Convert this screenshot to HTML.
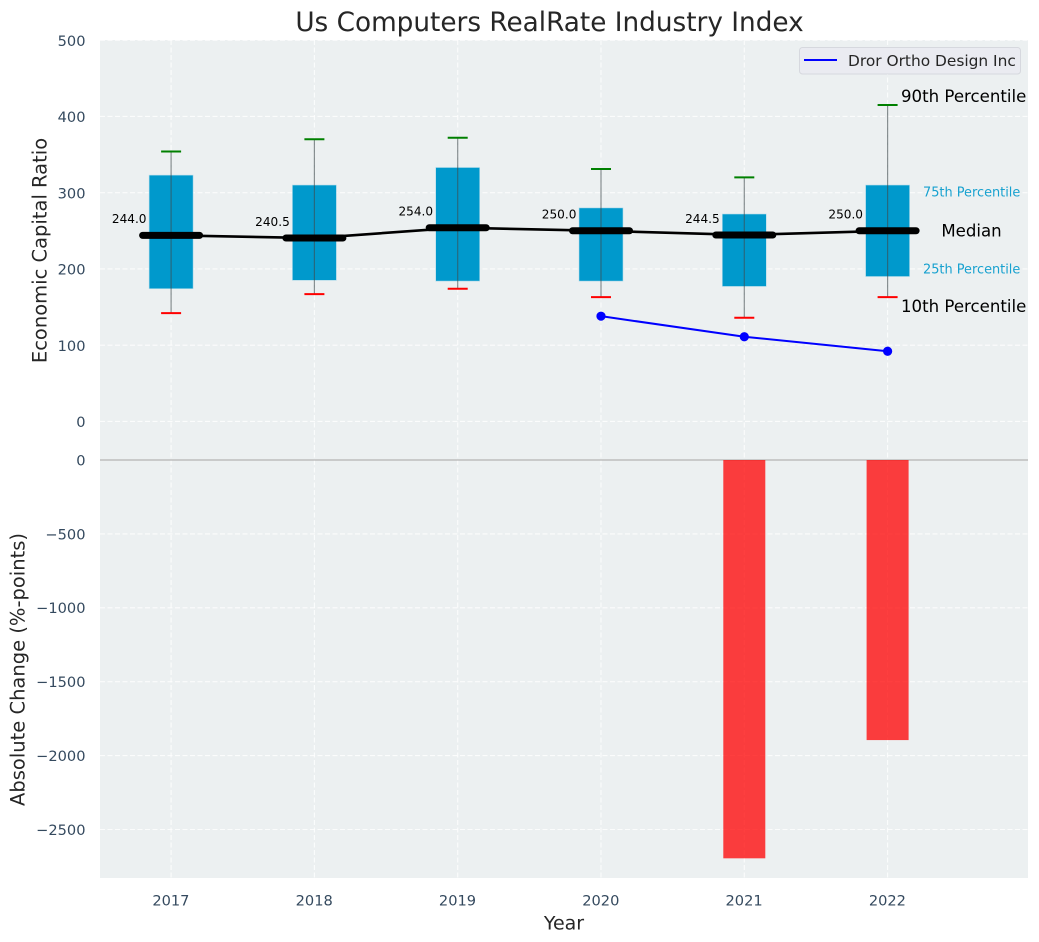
<!DOCTYPE html>
<html>
<head>
<meta charset="utf-8">
<title>Us Computers RealRate Industry Index</title>
<style>
html,body{margin:0;padding:0;background:#fff;width:1039px;height:942px;overflow:hidden}
svg{display:block;font-family:"DejaVu Sans","Liberation Sans",sans-serif}
</style>
</head>
<body>
<svg id="chart" width="1039" height="942" viewBox="0 0 1039 942" xmlns="http://www.w3.org/2000/svg"></svg>
<script>
const years = [2017, 2018, 2019, 2020, 2021, 2022];
const p10 = [142, 167, 174, 163, 136, 163];
const p25 = [174, 185, 184, 184, 177, 190];
const medians = [244.0, 240.5, 254.0, 250.0, 244.5, 250.0];
const p75 = [323, 310, 333, 280, 272, 310];
const p90 = [354, 370, 372, 331, 320, 415];
const companyYears = [2020, 2021, 2022];
const companyValues = [138, 111, 92];
const changeYears = [2021, 2022];
const changeValues = [-2695, -1895];
const topTicks = [0, 100, 200, 300, 400, 500];
const bottomTicks = [0, -500, -1000, -1500, -2000, -2500];

const NS = 'http://www.w3.org/2000/svg';
const svg = document.getElementById('chart');
const xScale = function (yr) { return 171.1 + (yr - 2017) * 143.3; };
const yTop = function (v) { return 421.4 - v * 0.7625; };
const yBottom = function (v) { return 460 - v * 0.1478; };

function make(tag, attrs, name, text) {
  const el = document.createElementNS(NS, tag);
  for (const k in attrs) el.setAttribute(k, attrs[k]);
  
  
  if (text !== undefined) el.textContent = text;
  svg.appendChild(el);
  return el;
}
function fmtTick(v) { return v < 0 ? '\u2212' + Math.abs(v) : String(v); }

const gridStyle = {stroke: '#fff', 'stroke-width': 1.1, 'stroke-dasharray': '5 2.5', opacity: 0.8};

make('rect', {x: 100, y: 40, width: 928, height: 838, fill: '#ecf0f1'}, 'plot-background');

years.forEach(function (yr) {
  make('line', Object.assign({x1: xScale(yr), x2: xScale(yr), y1: 40, y2: 878}, gridStyle), 'x-gridline-' + yr);
});
topTicks.forEach(function (t) {
  make('line', Object.assign({x1: 100, x2: 1028, y1: yTop(t), y2: yTop(t)}, gridStyle), 'top-y-gridline-' + t);
  make('text', {x: 85.5, y: yTop(t) + 5.6, 'text-anchor': 'end', 'font-size': 14.6, fill: '#34495e'}, 'top-y-tick-label-' + t, fmtTick(t));
});
bottomTicks.forEach(function (t) {
  if (t !== 0) make('line', Object.assign({x1: 100, x2: 1028, y1: yBottom(t), y2: yBottom(t)}, gridStyle), 'bottom-y-gridline-' + t);
  make('text', {x: 85.5, y: yBottom(t) + 5.4, 'text-anchor': 'end', 'font-size': 14.6, fill: '#34495e'}, 'bottom-y-tick-label-' + t, fmtTick(t));
});
make('line', {x1: 100, x2: 1028, y1: yBottom(0), y2: yBottom(0), stroke: '#b4b4b4', 'stroke-width': 1.2}, 'zero-line');

changeYears.forEach(function (yr, i) {
  const yA = yBottom(0), yB = yBottom(changeValues[i]);
  make('rect', {x: xScale(yr) - 21, y: Math.min(yA, yB), width: 42, height: Math.abs(yB - yA), fill: '#ff0000', opacity: 0.75}, 'change-bar-' + yr);
});

years.forEach(function (yr, i) {
  const x = xScale(yr);
  make('rect', {x: x - 22, y: yTop(p75[i]), width: 44, height: yTop(p25[i]) - yTop(p75[i]), fill: '#0099cc', stroke: '#b5dcea', 'stroke-width': 0.6}, 'iqr-box-' + yr);
  make('line', {x1: x, x2: x, y1: yTop(p90[i]), y2: yTop(p10[i]), stroke: '#3f4a4d', 'stroke-width': 1.2, opacity: 0.6}, 'whisker-' + yr);
  make('line', {x1: x - 10, x2: x + 10, y1: yTop(p90[i]), y2: yTop(p90[i]), stroke: '#008000', 'stroke-width': 2}, 'p90-cap-' + yr);
  make('line', {x1: x - 10, x2: x + 10, y1: yTop(p10[i]), y2: yTop(p10[i]), stroke: '#ff0000', 'stroke-width': 2}, 'p10-cap-' + yr);
});

make('polyline', {points: years.map(function (yr, i) { return xScale(yr) + ',' + yTop(medians[i]); }).join(' '), fill: 'none', stroke: '#000', 'stroke-width': 2.6}, 'median-line');
years.forEach(function (yr, i) {
  const x = xScale(yr), y = yTop(medians[i]);
  make('line', {x1: x - 28.5, x2: x + 28.5, y1: y, y2: y, stroke: '#000', 'stroke-width': 7, 'stroke-linecap': 'round'}, 'median-marker-' + yr);
  make('text', {x: x - 24.6, y: y - 12.2, 'text-anchor': 'end', 'font-size': 12.1, fill: '#000'}, 'median-value-' + yr, medians[i].toFixed(1));
});

make('polyline', {points: companyYears.map(function (yr, i) { return xScale(yr) + ',' + yTop(companyValues[i]); }).join(' '), fill: 'none', stroke: '#0000ff', 'stroke-width': 2}, 'company-line');
companyYears.forEach(function (yr, i) {
  make('circle', {cx: xScale(yr), cy: yTop(companyValues[i]), r: 4.6, fill: '#0000ff'}, 'company-point-' + yr);
});

const last = years.length - 1;
make('text', {x: 901, y: yTop(p90[last]) - 3.1, 'font-size': 16.6, fill: '#000'}, 'annotation-90th-percentile', '90th Percentile');
make('text', {x: 901, y: yTop(p10[last]) + 15, 'font-size': 16.6, fill: '#000'}, 'annotation-10th-percentile', '10th Percentile');
make('text', {x: 971.5, y: yTop(medians[last]) + 5.5, 'text-anchor': 'middle', 'font-size': 16.6, fill: '#000'}, 'annotation-median', 'Median');
make('text', {x: 923, y: yTop(p75[last]) + 11.3, 'font-size': 12.9, fill: '#0099cc', opacity: 0.9}, 'annotation-75th-percentile', '75th Percentile');
make('text', {x: 923, y: yTop(p25[last]) - 2.8, 'font-size': 12.9, fill: '#0099cc', opacity: 0.9}, 'annotation-25th-percentile', '25th Percentile');

years.forEach(function (yr) {
  make('text', {x: xScale(yr) - 0.2, y: 905.3, 'text-anchor': 'middle', 'font-size': 14.6, fill: '#34495e'}, 'x-tick-label-' + yr, String(yr));
});

make('text', {x: 549.5, y: 31, 'text-anchor': 'middle', 'font-size': 26.3, fill: '#262626'}, 'chart-title', 'Us Computers RealRate Industry Index');
make('text', {x: 564, y: 929.5, 'text-anchor': 'middle', 'font-size': 19, fill: '#262626'}, 'x-axis-title', 'Year');
make('text', {transform: 'translate(46.5,250.5) rotate(-90)', 'text-anchor': 'middle', 'font-size': 19.5, fill: '#262626'}, 'top-y-axis-title', 'Economic Capital Ratio');
make('text', {transform: 'translate(24.5,669.5) rotate(-90)', 'text-anchor': 'middle', 'font-size': 19.5, fill: '#262626'}, 'bottom-y-axis-title', 'Absolute Change (%-points)');

make('rect', {x: 799.5, y: 47.5, width: 221, height: 26.5, rx: 3, fill: '#eaebf1', stroke: '#d6d8de', 'stroke-width': 1}, 'legend-box');
make('line', {x1: 804, x2: 837, y1: 60, y2: 60, stroke: '#0000ff', 'stroke-width': 2}, 'legend-line-swatch');
make('text', {x: 848, y: 66, 'font-size': 15.4, fill: '#262626'}, 'legend-label', 'Dror Ortho Design Inc');
</script>
</body>
</html>
